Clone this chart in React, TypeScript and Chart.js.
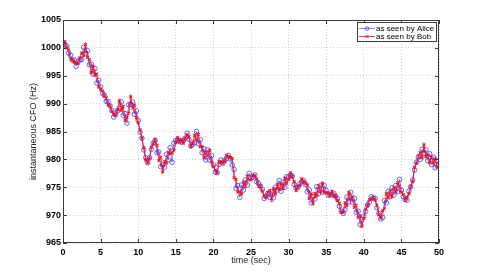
import { useEffect, useRef } from 'react';
import { Chart, registerables } from 'chart.js';

Chart.register(...registerables);

// Sampling interval of the read-off traces (seconds between samples)
const SAMPLE_STEP_SEC = 0.25;

const aliceCfo = [
  1001.0, 1000.6, 1000.3, 999.1, 998.7, 997.8, 997.8, 996.7, 997.5, 997.9,
  997.9, 1000.1, 999.0, 999.5, 997.0, 997.1, 995.3, 996.3, 993.7, 994.2,
  993.0, 991.9, 991.5, 990.4, 990.4, 989.6, 988.8, 987.6, 988.1, 988.7,
  989.2, 990.3, 987.9, 988.2, 986.5, 989.8, 989.9, 990.3, 988.1, 988.7,
  987.0, 984.9, 983.8, 981.7, 980.3, 979.4, 980.3, 981.8, 982.9, 983.4,
  981.2, 981.3, 978.7, 979.0, 978.6, 980.9, 979.9, 982.1, 979.5, 982.9,
  983.4, 983.5, 983.2, 983.1, 983.3, 983.8, 984.7, 983.6, 982.4, 982.7,
  983.0, 985.0, 982.8, 983.5, 981.2, 981.9, 979.9, 981.7, 979.9, 980.7,
  979.0, 977.7, 977.6, 979.1, 979.9, 979.3, 979.8, 980.2, 980.7, 980.1,
  979.0, 978.2, 974.8, 975.3, 973.2, 975.4, 974.5, 976.3, 975.4, 977.5,
  976.6, 976.8, 977.2, 976.0, 975.7, 975.2, 974.6, 973.0, 973.4, 973.9,
  973.2, 974.2, 973.1, 975.0, 974.5, 976.2, 974.3, 975.9, 975.0, 976.9,
  976.8, 977.2, 977.0, 975.5, 974.9, 975.0, 975.6, 976.0, 976.2, 975.5,
  974.2, 974.5, 972.2, 973.3, 972.9, 975.1, 973.9, 975.3, 974.1, 975.3,
  974.4, 973.6, 973.6, 973.8, 973.9, 973.4, 972.9, 971.6, 970.7, 970.3,
  971.0, 973.2, 972.4, 974.1, 972.3, 973.0, 970.5, 970.7, 968.3, 969.2,
  969.8, 970.7, 971.8, 972.3, 973.3, 973.1, 973.0, 971.3, 970.3, 969.3,
  969.6, 972.6, 972.2, 974.3, 973.3, 974.9, 973.6, 975.3, 974.2, 976.4,
  974.5, 973.3, 972.8, 972.7, 974.3, 975.1, 976.3, 978.1, 979.5, 980.4,
  980.0, 981.8, 981.1, 981.7, 979.8, 981.0, 979.1, 980.4, 978.5, 979.7,
  979.1,
];

const bobCfo = [
  1000.4, 1001.1, 1000.0, 999.6, 998.0, 997.9, 997.4, 997.3, 997.2, 998.2,
  999.1, 998.7, 1000.6, 998.3, 997.9, 995.6, 996.7, 995.1, 995.3, 993.0,
  992.6, 992.3, 991.4, 991.0, 989.8, 989.6, 988.6, 988.1, 987.9, 988.9,
  990.5, 988.8, 989.5, 987.0, 987.5, 988.3, 991.2, 989.2, 989.7, 987.5,
  986.6, 985.3, 983.8, 982.1, 979.9, 979.4, 980.1, 982.2, 982.8, 983.6,
  982.5, 979.8, 980.4, 977.8, 979.6, 979.3, 981.3, 981.0, 981.2, 981.7,
  983.0, 983.9, 983.2, 983.6, 982.9, 983.8, 984.4, 984.1, 982.3, 982.9,
  984.3, 983.5, 984.5, 982.3, 982.3, 980.3, 981.3, 980.6, 981.6, 979.5,
  978.7, 978.1, 977.6, 979.6, 979.5, 979.3, 979.6, 980.7, 980.5, 980.3,
  980.2, 976.7, 976.4, 974.1, 974.2, 973.8, 975.9, 975.2, 977.0, 976.3,
  976.3, 977.2, 977.1, 976.5, 975.2, 975.2, 974.3, 973.5, 973.2, 974.1,
  974.4, 972.7, 974.7, 973.8, 975.5, 974.6, 975.6, 974.8, 976.6, 975.7,
  976.4, 977.6, 976.9, 976.0, 974.4, 975.0, 975.3, 976.5, 976.0, 975.7,
  975.4, 973.0, 973.8, 972.1, 973.9, 973.5, 975.2, 974.2, 975.7, 974.1,
  974.0, 974.0, 973.5, 974.3, 973.4, 973.4, 972.6, 972.1, 970.5, 970.5,
  972.2, 971.7, 974.0, 972.9, 973.3, 971.4, 971.8, 969.6, 969.9, 968.0,
  969.4, 971.1, 971.7, 972.8, 972.8, 973.1, 972.7, 971.8, 970.1, 969.5,
  970.8, 971.1, 973.8, 973.1, 974.3, 973.3, 974.9, 974.2, 975.8, 975.2,
  974.1, 973.7, 972.7, 973.2, 973.8, 975.1, 976.0, 978.6, 979.3, 980.6,
  981.2, 980.3, 982.6, 980.5, 980.8, 979.4, 980.4, 979.3, 980.1, 978.6,
  978.6,
];

const xTicks = [0, 5, 10, 15, 20, 25, 30, 35, 40, 45, 50];
const yTicks = [965, 970, 975, 980, 985, 990, 995, 1000, 1005];
const seriesLabels = ['as seen by Alice', 'as seen by Bob'];
const xTitle = 'time (sec)';
const yTitle = 'instantaneous CFO (Hz)';

const FONT = "'Liberation Sans', Arial, Helvetica, sans-serif";

const ALICE_LINE = 'rgba(60,60,255,0.6)';
const ALICE_MARK = 'rgba(50,50,255,0.75)';
const BOB_LINE = 'rgba(255,0,0,0.75)';
const BOB_MARK = 'rgba(255,10,10,0.9)';

const framePlugin = {
  id: 'matlabFrame',
  afterDraw(chart: any) {
    const { ctx, chartArea, scales } = chart;
    const { left, right, top, bottom } = chartArea;
    ctx.save();
    ctx.strokeStyle = '#3a3a3a';
    ctx.lineWidth = 1;
    ctx.setLineDash([]);
    ctx.strokeRect(Math.round(left) + 0.5, Math.round(top) + 0.5, Math.round(right - left) - 1, Math.round(bottom - top) - 1);
    const tl = 4;
    ctx.beginPath();
    for (const v of xTicks) {
      const x = Math.round(scales.x.getPixelForValue(v)) + 0.5;
      ctx.moveTo(x, bottom);
      ctx.lineTo(x, bottom - tl);
      ctx.moveTo(x, top);
      ctx.lineTo(x, top + tl);
    }
    for (const v of yTicks) {
      const y = Math.round(scales.y.getPixelForValue(v)) + 0.5;
      ctx.moveTo(left, y);
      ctx.lineTo(left + tl, y);
      ctx.moveTo(right, y);
      ctx.lineTo(right - tl, y);
    }
    ctx.stroke();

    // legend box in the upper-right corner
    ctx.font = `8px ${FONT}`;
    const textW = Math.max(...seriesLabels.map((s) => ctx.measureText(s).width));
    const sampleW = 16;
    const boxW = Math.ceil(2 + sampleW + 1 + textW + 2);
    const boxH = 20;
    const bx = Math.round(right) - 2 - boxW;
    const by = Math.round(top) + 2;
    ctx.fillStyle = '#ffffff';
    ctx.fillRect(bx, by, boxW, boxH);
    ctx.strokeStyle = '#3a3a3a';
    ctx.strokeRect(bx + 0.5, by + 0.5, boxW - 1, boxH - 1);
    const rows = [by + 6.5, by + 14.5];
    const styles = [
      { line: ALICE_LINE, mark: ALICE_MARK, kind: 'circle' },
      { line: BOB_LINE, mark: BOB_MARK, kind: 'cross' },
    ];
    seriesLabels.forEach((label, i) => {
      const y = rows[i];
      const x0 = bx + 2;
      const x1 = x0 + sampleW;
      ctx.strokeStyle = styles[i].line;
      ctx.lineWidth = 1;
      ctx.beginPath();
      ctx.moveTo(x0, y);
      ctx.lineTo(x1, y);
      ctx.stroke();
      const cx = (x0 + x1) / 2;
      ctx.strokeStyle = styles[i].mark;
      ctx.beginPath();
      if (styles[i].kind === 'circle') {
        ctx.arc(cx, y, 1.8, 0, Math.PI * 2);
      } else {
        ctx.moveTo(cx - 1.5, y - 1.5);
        ctx.lineTo(cx + 1.5, y + 1.5);
        ctx.moveTo(cx + 1.5, y - 1.5);
        ctx.lineTo(cx - 1.5, y + 1.5);
      }
      ctx.stroke();
      ctx.fillStyle = '#000000';
      ctx.textAlign = 'left';
      ctx.textBaseline = 'middle';
      ctx.fillText(label, x1 + 1, y);
    });
    ctx.restore();
  },
};

export default function App() {
  const canvasRef = useRef<HTMLCanvasElement | null>(null);

  useEffect(() => {
    const canvas = canvasRef.current;
    if (!canvas) return;
    const toPoints = (arr: number[]) => arr.map((v, i) => ({ x: i * SAMPLE_STEP_SEC, y: v }));

    const chart = new Chart(canvas, {
      type: 'line',
      data: {
        datasets: [
          {
            label: seriesLabels[0],
            data: toPoints(aliceCfo),
            borderColor: ALICE_LINE,
            borderWidth: 1,
            pointStyle: 'circle',
            pointRadius: 2.3,
            pointBorderWidth: 1,
            pointBorderColor: ALICE_MARK,
            pointBackgroundColor: 'rgba(0,0,0,0)',
            tension: 0,
            order: 2,
          },
          {
            label: seriesLabels[1],
            data: toPoints(bobCfo),
            borderColor: BOB_LINE,
            borderWidth: 1.2,
            pointStyle: 'crossRot',
            pointRadius: 2,
            pointBorderWidth: 1.2,
            pointBorderColor: BOB_MARK,
            tension: 0,
            order: 1,
          },
        ],
      },
      options: {
        animation: false,
        responsive: false,
        devicePixelRatio: 1,
        layout: { padding: { top: 20, right: 46, left: 0, bottom: 0 } },
        plugins: {
          legend: { display: false },
          tooltip: { enabled: false },
        },
        scales: {
          x: {
            type: 'linear',
            min: 0,
            max: 50,
            afterBuildTicks: (s: any) => {
              s.ticks = xTicks.map((v) => ({ value: v }));
            },
            afterFit: (s: any) => {
              s.height = 31;
            },
            ticks: {
              autoSkip: false,
              maxRotation: 0,
              padding: 4,
              color: '#000',
              font: { family: FONT, size: 9, weight: 'bold' },
              callback: (v: any) => String(v),
            },
            grid: { color: '#cfcfcf', lineWidth: 1, drawTicks: false },
            border: { display: false, dash: [1, 2] },
            title: {
              display: true,
              text: xTitle,
              color: '#222',
              font: { family: FONT, size: 9 },
              padding: { top: 0, bottom: 8 },
            },
          },
          y: {
            type: 'linear',
            min: 965,
            max: 1005,
            afterBuildTicks: (s: any) => {
              s.ticks = yTicks.map((v) => ({ value: v }));
            },
            afterFit: (s: any) => {
              s.width = 63;
            },
            ticks: {
              autoSkip: false,
              padding: 2,
              color: '#000',
              font: { family: FONT, size: 9, weight: 'bold' },
              callback: (v: any) => String(v),
            },
            grid: { color: '#cfcfcf', lineWidth: 1, drawTicks: false },
            border: { display: false, dash: [1, 2] },
            title: {
              display: true,
              text: yTitle,
              color: '#222',
              font: { family: FONT, size: 9 },
              padding: { top: 28, bottom: 0 },
            },
          },
        },
      },
      plugins: [framePlugin],
    } as any);

    return () => chart.destroy();
  }, []);

  return (
    <div style={{ position: 'fixed', left: 0, top: 0, width: 485, height: 274, background: '#fff' }}>
      <canvas ref={canvasRef} width={485} height={274} style={{ display: 'block' }} />
    </div>
  );
}
